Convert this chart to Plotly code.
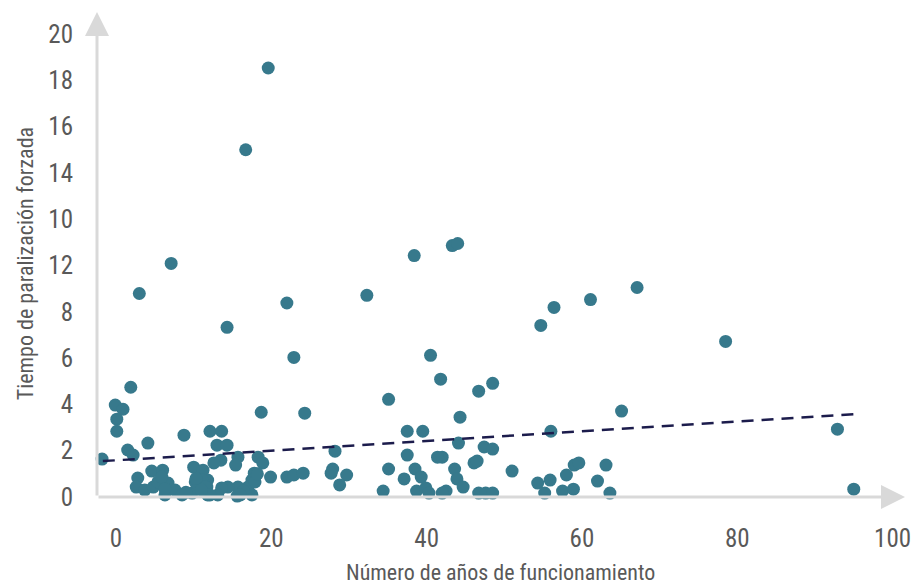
import plotly.graph_objects as go

# Años de funcionamiento (x) y tiempo de paralización forzada (y)
anios = [
    19.6, 16.7, 7.1, 3.0, 22.0, 14.3, 22.9, 18.7, 24.3, 1.9,
    32.3, 38.4, 43.3, 44.0, 40.5, 41.8, 35.1, 48.5, 46.7, 44.3,
    54.7, 56.4, 61.1, 67.1, 78.5, 56.0, 65.1, 92.9, 95.0,
    54.3, 55.2, 55.9, 57.5, 58.0, 58.9, 59.0, 59.6, 62.0, 63.1, 63.6,
    44.1, 47.4, 48.5, 42.0, 46.1, 46.5, 43.6, 51.0, 43.9, 44.7,
    42.5, 42.0, 46.7, 47.6, 48.5,
    37.5, 39.5, 28.2, 37.5, 41.4, 27.9, 27.7, 29.7, 28.8, 35.1,
    38.5, 39.3, 37.1, 34.4, 38.7, 39.9, 40.3,
    19.9, 22.0, 22.9, 24.1,
    12.1, 13.6, 13.0, 14.3, 18.3, 18.9, 15.7, 15.4, 13.5, 12.6,
    17.8, 17.5, 17.0, 17.5, 15.7, 15.6, 14.4, 13.6, 13.1, 11.8,
    11.7, 11.8, 16.4, 16.0, 17.9, 18.2,
    -0.1, 0.9, 0.1, 0.1, 4.1, 8.75, 1.5, 2.2, -1.8, 4.6,
    6.0, 2.8, 10.0, 11.2, 2.6, 3.7, 4.8, 5.4, 6.7, 6.3,
    7.6, 8.5, 9.8, 10.2, 11.1, 11.5, 12.1, 5.9, 6.3, 9.0,
    10.3, 11.0,
]
paralizacion = [
    18.53, 15.0, 10.09, 8.79, 8.38, 7.33, 6.03, 3.66, 3.62, 4.74,
    8.71, 10.43, 10.86, 10.95, 6.12, 5.09, 4.22, 4.91, 4.57, 3.45,
    7.41, 8.19, 8.53, 9.05, 6.72, 2.84, 3.71, 2.93, 0.34,
    0.60, 0.17, 0.73, 0.26, 0.95, 0.34, 1.38, 1.47, 0.69, 1.38, 0.17,
    2.33, 2.16, 2.07, 1.72, 1.47, 1.55, 1.21, 1.12, 0.78, 0.43,
    0.26, 0.17, 0.17, 0.17, 0.17,
    2.84, 2.84, 1.98, 1.81, 1.72, 1.21, 1.03, 0.95, 0.52, 1.21,
    1.21, 0.86, 0.78, 0.26, 0.26, 0.39, 0.17,
    0.86, 0.86, 0.95, 1.03,
    2.84, 2.84, 2.24, 2.24, 1.72, 1.47, 1.72, 1.38, 1.59, 1.47,
    1.03, 0.73, 0.43, 0.09, 0.43, 0.04, 0.43, 0.39, 0.09, 0.73,
    0.43, 0.09, 0.26, 0.09, 0.65, 1.00,
    3.97, 3.79, 3.36, 2.84, 2.33, 2.67, 2.03, 1.81, 1.64, 1.12,
    1.16, 0.82, 1.29, 1.16, 0.43, 0.30, 0.43, 0.65, 0.60, 0.09,
    0.30, 0.09, 0.17, 0.65, 0.73, 0.43, 0.09, 0.86, 0.35, 0.20,
    0.80, 0.30,
]

# Línea de tendencia
tendencia_x = [-1.7, 95.4]
tendencia_y = [1.55, 3.58]

# Marcas de los ejes
x_ticks = [0, 20, 40, 60, 80, 100]
x_ticktext = ["0", "20", "40", "60", "80", "100"]
y_ticks = [0, 2, 4, 6, 8, 10, 12, 14, 16, 18, 20]
y_ticktext = ["0", "2", "4", "6", "8", "12", "10", "14", "16", "18", "20"]

FONT = "Roboto Condensed, sans-serif"
TEXT_COLOR = "#595959"
AXIS_COLOR = "#d9d9d9"
X_MIN, X_MAX = -2.45, 101.6
Y_MIN, Y_MAX = 0, 20.95

fig = go.Figure()

fig.add_trace(go.Scatter(
    x=anios, y=paralizacion, mode="markers",
    marker=dict(size=13, color="#37798c", line=dict(width=0)),
    cliponaxis=False, showlegend=False,
))

fig.add_trace(go.Scatter(
    x=tendencia_x, y=tendencia_y, mode="lines",
    line=dict(color="#1c1c4c", width=2.5, dash="12px,8px"),
    showlegend=False,
))

# Ejes con flecha
fig.add_annotation(x=X_MAX, y=0, ax=X_MIN, ay=0, xref="x", yref="y",
                   axref="x", ayref="y", text="", showarrow=True,
                   arrowhead=2, arrowsize=1.6, arrowwidth=3,
                   arrowcolor=AXIS_COLOR)
fig.add_annotation(x=X_MIN, y=Y_MAX, ax=X_MIN, ay=0, xref="x", yref="y",
                   axref="x", ayref="y", text="", showarrow=True,
                   arrowhead=2, arrowsize=1.6, arrowwidth=3,
                   arrowcolor=AXIS_COLOR)

# Títulos de los ejes
fig.add_annotation(text="Número de años de funcionamiento", xref="paper",
                   yref="paper", x=0.499, y=-0.155, showarrow=False,
                   xanchor="center", yanchor="middle",
                   font=dict(family=FONT, size=22, color=TEXT_COLOR))
fig.add_annotation(text="Tiempo de paralización forzada", xref="paper",
                   yref="paper", x=-0.089, y=0.48, showarrow=False,
                   textangle=-90, xanchor="center", yanchor="middle",
                   font=dict(family=FONT, size=22, color=TEXT_COLOR))

fig.update_xaxes(range=[X_MIN, X_MAX], tickvals=x_ticks, ticktext=x_ticktext,
                 showgrid=False, zeroline=False, showline=False,
                 ticks="outside", ticklen=19, tickcolor="rgba(0,0,0,0)",
                 ticklabeloverflow="allow", automargin=False,
                 tickfont=dict(family=FONT, size=25, color=TEXT_COLOR))
fig.update_yaxes(range=[Y_MIN, Y_MAX], tickvals=y_ticks, ticktext=y_ticktext,
                 showgrid=False, zeroline=False, showline=False,
                 ticks="outside", ticklen=18, tickcolor="rgba(0,0,0,0)",
                 ticklabeloverflow="allow", automargin=False,
                 tickfont=dict(family=FONT, size=25, color=TEXT_COLOR))

fig.update_layout(
    width=911, height=585,
    margin=dict(l=97, r=6, t=12, b=88),
    plot_bgcolor="white", paper_bgcolor="white",
    font=dict(family=FONT, color=TEXT_COLOR),
)

fig.write_html("out.html")
